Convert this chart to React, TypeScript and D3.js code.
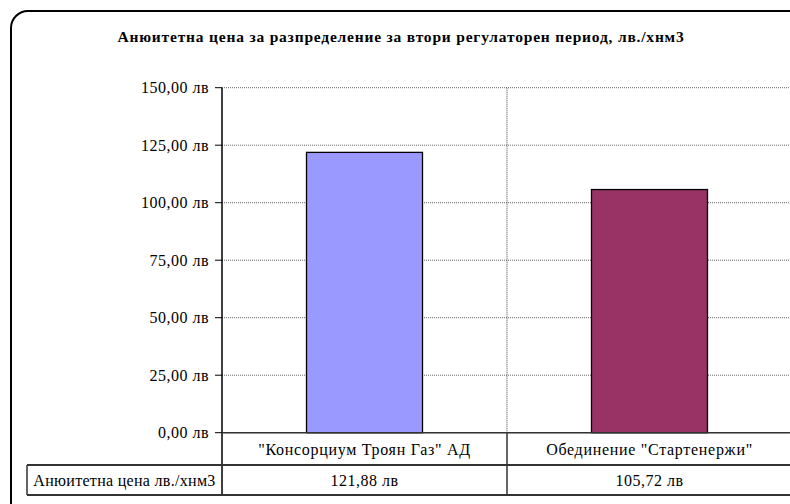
import React from "react";
import * as d3 from "d3";

const categories = ['"Консорциум Троян Газ" АД', 'Обединение "Стартенержи"'];
const values = [121.88, 105.72];
const valueLabels = ["121,88 лв", "105,72 лв"];
const barColors = ["#9999FF", "#993366"];
const yTicks = [0, 25, 50, 75, 100, 125, 150];
const title = "Анюитетна цена за разпределение за втори регулаторен период, лв./хнм3";
const seriesName = "Анюитетна цена лв./хнм3";

const fmt = (v: number) => v.toFixed(2).replace(".", ",") + " лв";

export default function App() {
  const W = 790, H = 504;
  const left = 222, right = 792, top = 87.7, bottom = 432.7;
  const tableLeft = 27;
  const rowMid = 465, rowBot = 495;
  const x = d3.scaleBand<string>().domain(categories).range([left, right]).paddingInner(0).paddingOuter(0);
  const y = d3.scaleLinear().domain([0, 150]).range([bottom, top]);
  const barW = 116;
  const font = "'Liberation Serif', 'Times New Roman', serif";
  const fs = 16;
  const ls = 0.5;
  return (
    <svg width={W} height={H} style={{ position: "absolute", left: 0, top: 0 }} fontFamily={font}>
      <rect x={0} y={0} width={W} height={H} fill="#fff" />
      <rect x={11} y={11} width={796} height={510} rx={17} ry={17} fill="#fff" stroke="#000" strokeWidth={2} />
      <text x={401} y={42} textAnchor="middle" fontSize={15.5} fontWeight="bold" letterSpacing={0.8}>{title}</text>
      {yTicks.map((t) => (
        <line key={"g" + t} x1={left} x2={right} y1={y(t)} y2={y(t)} stroke="#666" strokeWidth={1} strokeDasharray="1,1" />
      ))}
      {categories.slice(1).map((c) => (
        <line key={"d" + c} x1={x(c)!} x2={x(c)!} y1={top} y2={bottom} stroke="#444" strokeWidth={1} strokeDasharray="1,1" />
      ))}
      {categories.map((c, i) => {
        const cx = x(c)! + x.bandwidth() / 2;
        return (
          <rect key={"b" + c} x={cx - barW / 2} y={y(values[i])} width={barW} height={bottom - y(values[i])}
            fill={barColors[i]} stroke="#000" strokeWidth={1.3} />
        );
      })}
      <line x1={left} x2={left} y1={top} y2={rowBot} stroke="#000" strokeWidth={1.5} />
      {yTicks.map((t) => (
        <g key={"t" + t}>
          <line x1={left - 7} x2={left} y1={y(t)} y2={y(t)} stroke="#000" strokeWidth={1} />
          <text x={left - 13} y={y(t) + 5.5} textAnchor="end" fontSize={fs} letterSpacing={ls}>{fmt(t)}</text>
        </g>
      ))}
      <line x1={left} x2={W} y1={bottom} y2={bottom} stroke="#333" strokeWidth={1.5} />
      <line x1={tableLeft} x2={W} y1={rowMid} y2={rowMid} stroke="#333" strokeWidth={1.8} />
      <line x1={tableLeft} x2={W} y1={rowBot} y2={rowBot} stroke="#333" strokeWidth={1.8} />
      <line x1={tableLeft} x2={tableLeft} y1={rowMid} y2={rowBot} stroke="#333" strokeWidth={1.5} />
      {categories.slice(1).map((c) => (
        <line key={"v" + c} x1={x(c)!} x2={x(c)!} y1={bottom} y2={rowBot} stroke="#333" strokeWidth={1.5} />
      ))}
      <text x={(tableLeft + left) / 2} y={rowMid + 21} textAnchor="middle" fontSize={fs} letterSpacing={0.3}>{seriesName}</text>
      {categories.map((c, i) => {
        const cx = x(c)! + x.bandwidth() / 2;
        return (
          <g key={"c" + c}>
            <text x={cx} y={bottom + 22} textAnchor="middle" fontSize={fs} letterSpacing={0.7}>{c}</text>
            <text x={cx} y={rowMid + 21} textAnchor="middle" fontSize={fs} letterSpacing={ls}>{valueLabels[i]}</text>
          </g>
        );
      })}
    </svg>
  );
}
